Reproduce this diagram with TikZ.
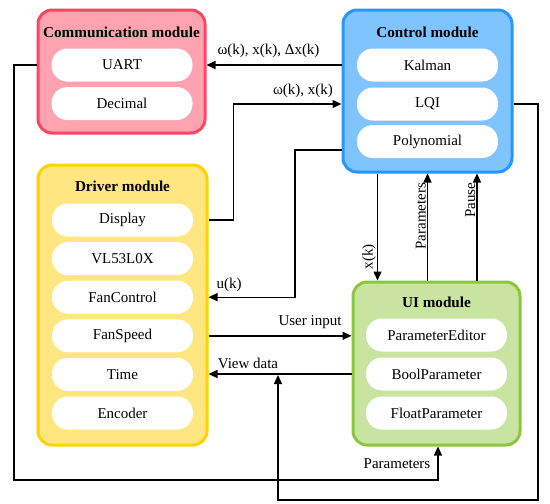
\documentclass[tikz,border=0pt]{standalone}
\usepackage{fontspec}
\setmainfont{Liberation Serif}
\usepackage{tikz}
\usetikzlibrary{arrows.meta,positioning}
\definecolor{commfill}{RGB}{255,163,176}
\definecolor{commline}{RGB}{255,69,100}
\definecolor{ctrlfill}{RGB}{128,196,255}
\definecolor{ctrlline}{RGB}{40,150,255}
\definecolor{drvfill}{RGB}{255,230,128}
\definecolor{drvline}{RGB}{255,210,0}
\definecolor{uifill}{RGB}{200,228,160}
\definecolor{uiline}{RGB}{140,198,63}
\tikzset{
  diag/.style={x=1pt,y=-1pt,font=\fontsize{15}{17}\selectfont,>={Triangle[length=9pt,width=8pt]}},
  module/.style={rounded corners=14pt,line width=3pt,inner sep=0pt},
  comm/.style={module,draw=commline,fill=commfill},
  ctrl/.style={module,draw=ctrlline,fill=ctrlfill},
  drv/.style={module,draw=drvline,fill=drvfill},
  uimod/.style={module,draw=uiline,fill=uifill},
  title/.style={font=\fontsize{15.2}{17}\selectfont\bfseries},
  item/.style={fill=white,rounded corners=16pt,minimum width=141pt,minimum height=33pt,inner sep=0pt},
  lbl/.style={inner sep=1pt},
  flow/.style={->,line width=1.4pt},
}
\begin{document}
\begin{tikzpicture}[diag]
\useasboundingbox (0,0) rectangle (550,504);
% modules
\node[comm,minimum width=167pt,minimum height=123pt] (comm) at (121.5,71.5) {};
\node[ctrl,minimum width=169pt,minimum height=162pt] (control) at (427.5,91) {};
\node[drv,minimum width=169pt,minimum height=280pt] (driver) at (122.5,305) {};
\node[uimod,minimum width=167pt,minimum height=163pt] (ui) at (436.5,363.5) {};
\node[title] (comm-t) at (121.5,32) {Communication module};
\node[title] (control-t) at (427.5,32) {Control module};
\node[title] (driver-t) at (122.5,186) {Driver module};
\node[title] (ui-t) at (436.5,302) {UI module};
% items
\node[item] (uart) at (122,65) {UART};
\node[item] (decimal) at (122,103.5) {Decimal};
\node[item] (kalman) at (427.5,65) {Kalman};
\node[item] (lqi) at (427.5,104) {LQI};
\node[item] (poly) at (427.5,141.5) {Polynomial};
\foreach \n/\t [count=\i from 0] in {display/Display,vl/VL53L0X,fanctrl/FanControl,fanspeed/FanSpeed,time/Time,encoder/Encoder}
  \node[item] (\n) at (122.5,220+38.6*\i) {\t};
\node[item] (pedit) at (436.5,335) {ParameterEditor};
\node[item] (boolp) at (436.5,374) {BoolParameter};
\node[item] (floatp) at (436.5,413) {FloatParameter};
% bends
\coordinate (ubend) at (295,150);
\coordinate (rightrail) at (538,500);
\coordinate (viewin) at (278,375);
\coordinate (leftrail) at (14,480);
% connectors
\draw[flow] (control.west |- uart) -- (comm.east |- uart);
\draw[flow] (driver.east |- display) -- ++(25,0) |- (control.west |- lqi);
\draw[flow] (control.west |- ubend) -- (ubend) |- (driver.east |- fanctrl);
\draw[flow] (driver.east |- fanspeed) -- (ui.west |- fanspeed);
\draw[flow] (ui.west |- boolp) -- (driver.east |- boolp);
\draw[flow] (control.east |- lqi) -| (rightrail) -| (viewin);
\draw[flow] (comm.west |- uart) -| (leftrail) -| ([xshift=1.5pt]ui.south);
\draw[flow] ([xshift=-50pt]control.south) -- ([xshift=-50pt]control.south |- ui.north)
  node[lbl,pos=0.78,rotate=90,anchor=south] {x(k)};
\draw[flow] (ui.north -| control.south) -- (control.south)
  node[lbl,pos=0.6,rotate=90,anchor=south] {Parameters};
\draw[flow] ([xshift=49.5pt]control.south |- ui.north) -- ([xshift=49.5pt]control.south)
  node[lbl,pos=0.75,rotate=90,anchor=south] {Pause};
% labels
\node[lbl] (l-state) at (268.5,51) {ω(k), x(k), Δx(k)};
\node[lbl] (l-meas) at (303,91) {ω(k), x(k)};
\node[lbl] (l-u) at (229,285) {u(k)};
\node[lbl] (l-user) at (310,322) {User input};
\node[lbl] (l-view) at (248,363) {View data};
\node[lbl] (l-par) at (397,464) {Parameters};
\end{tikzpicture}
\end{document}
